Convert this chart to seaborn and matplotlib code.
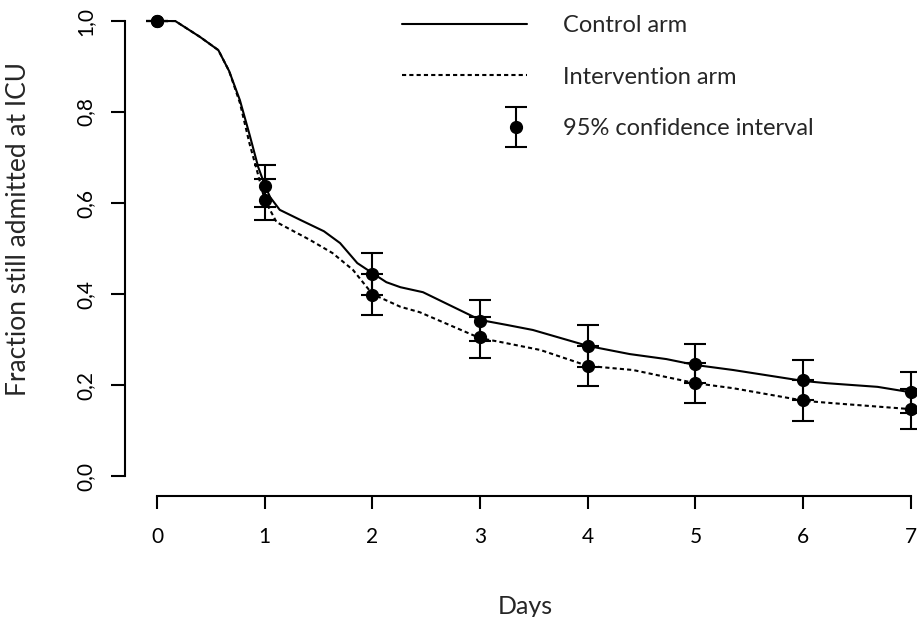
import numpy as np
import matplotlib
matplotlib.use("Agg")
import matplotlib.pyplot as plt
import seaborn as sns
from matplotlib.lines import Line2D
from matplotlib.legend_handler import HandlerErrorbar

# smoothed survival curves (days, fraction still in ICU)
control_days = [0, 0.17, 0.4, 0.57, 0.67, 0.77, 0.86, 0.94, 1.0, 1.05, 1.14, 1.33, 1.55, 1.70,
                1.86, 2.0, 2.13, 2.26, 2.47, 3.0, 3.25, 3.49, 4.0, 4.39, 4.73, 5.0, 5.35, 6.0,
                6.22, 6.69, 7.0]
control_frac = [1.0, 1.0, 0.965, 0.936, 0.89, 0.826, 0.75, 0.679, 0.64, 0.613, 0.585, 0.563,
                0.538, 0.512, 0.468, 0.446, 0.426, 0.415, 0.404, 0.343, 0.332, 0.321, 0.286,
                0.268, 0.257, 0.244, 0.233, 0.209, 0.204, 0.196, 0.184]
interv_days = [0, 0.17, 0.4, 0.57, 0.67, 0.77, 0.86, 0.93, 1.0, 1.11, 1.42, 1.63, 1.82, 2.0,
               2.26, 2.44, 3.0, 3.18, 3.56, 4.0, 4.42, 5.0, 5.35, 6.02, 6.28, 7.0]
interv_frac = [1.0, 1.0, 0.965, 0.936, 0.89, 0.82, 0.73, 0.67, 0.607, 0.558, 0.519, 0.49,
               0.453, 0.40, 0.372, 0.36, 0.303, 0.295, 0.277, 0.242, 0.233, 0.204, 0.193,
               0.165, 0.160, 0.147]

# daily estimates with 95% CI
days = [0, 1, 2, 3, 4, 5, 6, 7]
control_pt = [1.0, 0.637, 0.444, 0.341, 0.286, 0.246, 0.211, 0.184]
control_lo = [1.0, 0.591, 0.398, 0.296, 0.240, 0.204, 0.167, 0.139]
control_hi = [1.0, 0.684, 0.490, 0.387, 0.332, 0.290, 0.255, 0.229]
interv_pt = [1.0, 0.607, 0.398, 0.305, 0.242, 0.204, 0.167, 0.147]
interv_lo = [1.0, 0.563, 0.354, 0.259, 0.198, 0.160, 0.121, 0.103]
interv_hi = [1.0, 0.653, 0.444, 0.349, 0.286, 0.248, 0.211, 0.192]

y_ticks = [0.0, 0.2, 0.4, 0.6, 0.8, 1.0]
y_ticklabels = ["0,0", "0,2", "0,4", "0,6", "0,8", "1,0"]

sns.set_theme(style="ticks")
plt.rcParams["font.family"] = ["Lato", "DejaVu Sans"]


class RightErrHandler(HandlerErrorbar):
    # put the legend errorbar near the right end of the key, like R does
    def get_xdata(self, legend, xdescent, ydescent, width, height, fontsize):
        xdata = np.array([-xdescent, -xdescent + width])
        xdata_marker = np.array([-xdescent + 0.91 * width])
        return xdata, xdata_marker


fig = plt.figure(figsize=(9.17, 6.17), dpi=100)
ax = fig.add_axes([0.1383, 0.199, 0.8879, 0.7964])

lw = 1.5
sns.lineplot(x=control_days, y=control_frac, ax=ax, color="black", linewidth=lw)
sns.lineplot(x=interv_days, y=interv_frac, ax=ax, color="black", linewidth=lw,
             linestyle=(0, (2, 1.5)))

err_kw = dict(fmt="o", color="black", markersize=8.5, elinewidth=lw, capsize=8,
              capthick=lw, clip_on=False)
eb = ax.errorbar(days, control_pt,
                 yerr=[np.subtract(control_pt, control_lo), np.subtract(control_hi, control_pt)],
                 **err_kw)
ax.errorbar(days, interv_pt,
            yerr=[np.subtract(interv_pt, interv_lo), np.subtract(interv_hi, interv_pt)],
            **err_kw)

ax.set_xlim(-0.28, 7.28)
ax.set_ylim(-0.04, 1.04)
sns.despine(ax=ax)
for side in ["left", "bottom"]:
    ax.spines[side].set_position(("outward", 1.5))
    ax.spines[side].set_linewidth(lw)
    ax.spines[side].set_color("black")
ax.spines["left"].set_bounds(0, 1)
ax.spines["bottom"].set_bounds(0, 7)

ax.set_xticks(days)
ax.set_xticklabels([str(d) for d in days])
ax.set_yticks(y_ticks)
ax.set_yticklabels(y_ticklabels, rotation=90, va="center")
ax.tick_params(axis="y", length=10, width=lw, pad=11, labelsize=15, colors="black")
ax.tick_params(axis="x", length=9.4, width=lw, pad=13, labelsize=15, colors="black")

ax.set_xlabel("Days", fontsize=18)
ax.set_ylabel("Fraction still admitted at ICU", fontsize=19)
ax.xaxis.set_label_coords(0.49, -0.205)
ax.yaxis.set_label_coords(-0.118, 0.54)

handles = [Line2D([], [], color="black", linewidth=lw),
           Line2D([], [], color="black", linewidth=lw, linestyle=(0, (2, 1.5))),
           eb]
labels = ["Control arm", "Intervention arm", "95% confidence interval"]
fig.legend(handles, labels, loc="upper left", bbox_to_anchor=(402 / 917, 1 - 15 / 617),
           frameon=False, fontsize=17, handlelength=5.3, handletextpad=1.5,
           labelspacing=1.3, borderpad=0, borderaxespad=0,
           handler_map={type(eb): RightErrHandler(yerr_size=0.85)})

fig.savefig("out.png", dpi=100)
